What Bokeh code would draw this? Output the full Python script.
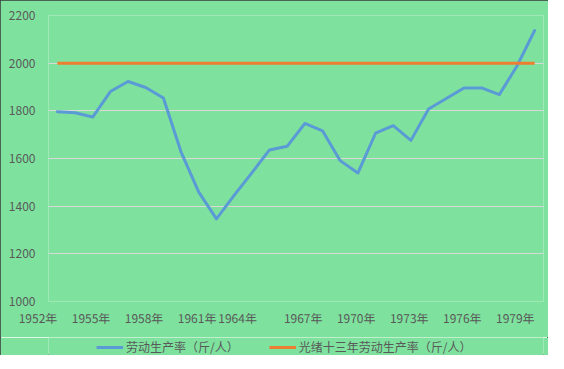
from bokeh.plotting import figure
from bokeh.layouts import column
from bokeh.models import FixedTicker, Legend, LegendItem, Range1d
from bokeh.embed import file_html
from bokeh.resources import INLINE

# ---- data ----
years = [1952, 1953, 1954, 1955, 1956, 1957, 1958, 1959, 1960, 1961,
         1962, 1963, 1964, 1965, 1966, 1967, 1968, 1969, 1970, 1971,
         1972, 1973, 1974, 1975, 1976, 1977, 1978, 1979]
labor_rate = [1796, 1792, 1774, 1881, 1923, 1898, 1854, 1627, 1459, 1347,
              1445, 1540, 1636, 1651, 1747, 1716, 1591, 1539, 1706, 1738,
              1676, 1808, 1852, 1896, 1896, 1868, 1988, 2137]
guangxu_rate = [2000, 2000, 2000, 2000, 2000, 2000, 2000, 2000, 2000, 2000,
                2000, 2000, 2000, 2000, 2000, 2000, 2000, 2000, 2000, 2000,
                2000, 2000, 2000, 2000, 2000, 2000, 2000, 2000]
series_names = ["劳动生产率（斤/人）", "光绪十三年劳动生产率（斤/人）"]
x_tick_years = [1952, 1955, 1958, 1961, 1964, 1967, 1970, 1973, 1976, 1979]
x_tick_labels = ["1952年", "1955年", "1958年", "1961年", "1964年",
                 "1967年", "1970年", "1973年", "1976年", "1979年"]
y_ticks = [1000, 1200, 1400, 1600, 1800, 2000, 2200]

# ---- style ----
FONT = "Noto Sans CJK SC"
BG = "#7EE29E"
TXT = "#595959"
GRID = "#D9D9D9"
BLUE = "#5B9BD5"
ORANGE = "#ED7D31"
label_nudge = {1964: -0.71}  # visual offset of that label in the original

p = figure(frame_width=495, frame_height=286,
           output_backend="svg", toolbar_location=None,
           x_range=Range1d(years[0] - 0.5, years[-1] + 0.5),
           y_range=Range1d(y_ticks[0], y_ticks[-1]),
           min_border_left=48, min_border_right=5,
           min_border_top=15, min_border_bottom=34)
p.background_fill_color = BG
p.border_fill_color = BG
p.outline_line_color = None

p.line(years, labor_rate, line_color=BLUE, line_width=3,
       line_join="round", line_cap="round")
p.line(years, guangxu_rate, line_color=ORANGE, line_width=3)

# x axis (labels right-aligned on their category, as in the original)
tick_pos = [y + label_nudge.get(y, 0) for y in x_tick_years]
xa = p.xaxis[0]
xa.ticker = FixedTicker(ticks=tick_pos)
xa.major_label_overrides = {t: lab for t, lab in zip(tick_pos, x_tick_labels)}
xa.major_label_orientation = 0.0005
xa.major_label_text_font = FONT
xa.major_label_text_font_size = "12px"
xa.major_label_text_color = TXT
xa.major_label_standoff = 16
xa.major_tick_out = 0
xa.major_tick_in = 0
xa.axis_label_standoff = 0
xa.axis_line_color = None
xa.major_tick_line_color = None
xa.minor_tick_line_color = None

# y axis
ya = p.yaxis[0]
ya.ticker = FixedTicker(ticks=y_ticks)
ya.major_label_text_font = FONT
ya.major_label_text_font_size = "12px"
ya.major_label_text_color = TXT
ya.major_label_standoff = 13
ya.major_tick_out = 0
ya.axis_line_color = None
ya.major_tick_line_color = None
ya.minor_tick_line_color = None

p.xgrid.grid_line_color = None
p.ygrid.ticker = FixedTicker(ticks=y_ticks)
p.ygrid.grid_line_color = GRID
p.ygrid.grid_line_width = 1

# ---- legend strip below the chart (series drawn off-view, only keys show) ----
pl = figure(width=548, height=18, output_backend="svg", toolbar_location=None,
            x_axis_location=None, y_axis_location=None,
            x_range=Range1d(0, 1), y_range=Range1d(0, 1), min_border=0)
pl.background_fill_color = BG
pl.border_fill_color = BG
pl.outline_line_color = None
pl.grid.grid_line_color = None
k1 = pl.line(years, labor_rate, line_color=BLUE, line_width=3)
k2 = pl.line(years, guangxu_rate, line_color=ORANGE, line_width=3)

legend = Legend(items=[LegendItem(label=series_names[0], renderers=[k1]),
                       LegendItem(label=series_names[1], renderers=[k2])],
                orientation="horizontal", location=(48, 0),
                padding=0, margin=0, spacing=30,
                glyph_width=27, glyph_height=14, label_standoff=3,
                background_fill_alpha=0, border_line_color=None,
                label_text_font=FONT, label_text_font_size="12px",
                label_text_color=TXT)
pl.add_layout(legend, "center")

layout = column(p, pl, spacing=0)
layout.styles = {"outline": "1px solid #3a3a3a", "outline-offset": "-1px"}

open("out.html", "w").write(file_html(layout, INLINE))
